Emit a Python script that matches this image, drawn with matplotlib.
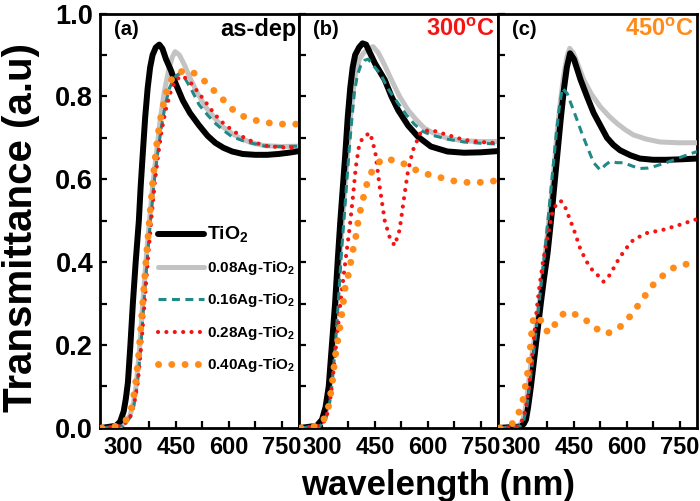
import matplotlib
matplotlib.use("Agg")
import matplotlib.pyplot as plt
from matplotlib.ticker import MultipleLocator, FormatStrFormatter

plt.rcParams['font.family'] = ['Liberation Sans', 'DejaVu Sans']
plt.rcParams['font.weight'] = 'bold'
plt.rcParams['mathtext.fontset'] = 'custom'
plt.rcParams['mathtext.rm'] = 'Liberation Sans:bold'
plt.rcParams['mathtext.it'] = 'Liberation Sans:bold'
plt.rcParams['mathtext.bf'] = 'Liberation Sans:bold'

# ---------------- data ----------------
labels = ['TiO$_2$', '0.08Ag-TiO$_2$', '0.16Ag-TiO$_2$', '0.28Ag-TiO$_2$', '0.40Ag-TiO$_2$']
panel_tags = ['(a)', '(b)', '(c)']
panel_titles = ['as-dep', '300$^o$C', '450$^o$C']

# (a) as-deposited
wl_tio2_a = [240, 280, 292, 302, 308, 314, 321, 328, 336, 345, 350, 356, 363, 370, 377, 384, 393, 403, 412,
             422, 436, 450, 470, 490, 516, 540, 562, 585, 610, 640, 675, 710, 741, 770, 800]
t_tio2_a = [0.0, 0.005, 0.015, 0.04, 0.07, 0.11, 0.2, 0.3, 0.4, 0.5, 0.58, 0.66, 0.75, 0.82, 0.87, 0.9, 0.918,
            0.925, 0.915, 0.89, 0.863, 0.83, 0.79, 0.76, 0.73, 0.705, 0.688, 0.676, 0.667, 0.661, 0.659, 0.659,
            0.661, 0.664, 0.668]
wl_008_a = [240, 290, 305, 320, 330, 337, 347, 356, 366, 375, 385, 396, 405, 417, 430, 440, 448, 460, 475, 490,
            510, 534, 560, 581, 610, 637, 670, 703, 750, 800]
t_008_a = [0.0, 0.003, 0.012, 0.03, 0.06, 0.1, 0.19, 0.3, 0.41, 0.5, 0.59, 0.67, 0.74, 0.81, 0.865, 0.895,
           0.908, 0.9, 0.875, 0.845, 0.81, 0.775, 0.748, 0.728, 0.71, 0.697, 0.687, 0.681, 0.679, 0.68]
wl_016_a = [240, 300, 320, 330, 340, 350, 359, 369, 378, 388, 398, 408, 420, 432, 445, 459, 475, 495, 516, 540,
            562, 585, 609, 650, 703, 750, 800]
t_016_a = [0.0, 0.005, 0.025, 0.05, 0.1, 0.19, 0.3, 0.41, 0.5, 0.59, 0.66, 0.72, 0.78, 0.82, 0.845, 0.855,
           0.845, 0.815, 0.78, 0.755, 0.735, 0.718, 0.703, 0.69, 0.68, 0.679, 0.68]
wl_028_a = [240, 300, 320, 332, 342, 352, 361, 371, 380, 390, 400, 410, 422, 435, 450, 469, 490, 516, 540, 562,
            585, 609, 630, 656, 680, 703, 750, 800]
t_028_a = [0.0, 0.005, 0.025, 0.06, 0.11, 0.2, 0.3, 0.41, 0.5, 0.59, 0.66, 0.72, 0.77, 0.81, 0.84, 0.85, 0.835,
           0.807, 0.78, 0.755, 0.735, 0.719, 0.707, 0.695, 0.687, 0.681, 0.677, 0.675]
wl_040_a = [240, 290, 310, 325, 335, 345, 355, 365, 375, 385, 395, 405, 417, 430, 445, 473, 506, 534, 557, 581,
            609, 633, 661, 694, 722, 755, 800]
t_040_a = [0.0, 0.005, 0.02, 0.05, 0.1, 0.18, 0.29, 0.4, 0.5, 0.6, 0.68, 0.74, 0.79, 0.83, 0.85, 0.863, 0.855,
           0.835, 0.815, 0.795, 0.77, 0.755, 0.745, 0.739, 0.735, 0.733, 0.733]

# (b) 300 C
wl_tio2_b = [240, 285, 300, 310, 319, 328, 337, 345, 352, 359, 366, 373, 380, 387, 394, 405, 415, 425, 436, 450,
             478, 497, 516, 544, 572, 609, 656, 703, 750, 800]
t_tio2_b = [0.0, 0.005, 0.02, 0.05, 0.1, 0.2, 0.3, 0.41, 0.5, 0.58, 0.66, 0.75, 0.82, 0.87, 0.9, 0.918, 0.928,
            0.925, 0.905, 0.88, 0.84, 0.8, 0.767, 0.73, 0.703, 0.679, 0.667, 0.664, 0.665, 0.668]
wl_008_b = [240, 290, 305, 315, 323, 333, 342, 350, 358, 365, 372, 380, 388, 396, 406, 418, 432, 445, 460, 478,
            497, 520, 544, 568, 591, 620, 656, 700, 750, 800]
t_008_b = [0.0, 0.005, 0.02, 0.05, 0.1, 0.2, 0.3, 0.41, 0.5, 0.58, 0.66, 0.74, 0.81, 0.86, 0.89, 0.905, 0.915,
           0.92, 0.905, 0.875, 0.84, 0.8, 0.767, 0.743, 0.723, 0.71, 0.699, 0.693, 0.691, 0.691]
wl_016_b = [240, 295, 310, 320, 328, 338, 346, 354, 362, 369, 376, 384, 392, 400, 410, 421, 431, 445, 465, 490,
            516, 540, 562, 585, 609, 656, 703, 750, 800]
t_016_b = [0.0, 0.005, 0.02, 0.05, 0.1, 0.2, 0.3, 0.41, 0.5, 0.58, 0.66, 0.74, 0.81, 0.85, 0.875, 0.887, 0.89,
           0.875, 0.855, 0.815, 0.783, 0.755, 0.733, 0.716, 0.707, 0.697, 0.69, 0.687, 0.685]
wl_028_b = [240, 295, 310, 320, 328, 340, 352, 366, 378, 388, 396, 405, 415, 427, 436, 444, 452, 464, 478, 492,
            506, 520, 532, 544, 558, 581, 609, 656, 703, 750, 800]
t_028_b = [0.0, 0.005, 0.02, 0.05, 0.1, 0.2, 0.3, 0.4, 0.48, 0.56, 0.63, 0.68, 0.7, 0.707, 0.712, 0.69, 0.66,
           0.58, 0.5, 0.46, 0.44, 0.477, 0.55, 0.62, 0.67, 0.715, 0.719, 0.707, 0.695, 0.69, 0.687]
wl_040_b = [240, 290, 305, 318, 328, 337, 354, 366, 375, 380, 385, 394, 399, 405, 413, 422, 431, 448, 473, 509,
            539, 567, 600, 633, 661, 694, 727, 760, 800]
t_040_b = [0.0, 0.005, 0.02, 0.05, 0.1, 0.17, 0.26, 0.34, 0.37, 0.39, 0.42, 0.45, 0.48, 0.51, 0.54, 0.572, 0.6,
           0.63, 0.65, 0.645, 0.635, 0.622, 0.612, 0.605, 0.598, 0.593, 0.592, 0.593, 0.597]

# (c) 450 C
wl_tio2_c = [240, 300, 308, 314, 320, 328, 335, 342, 349, 356, 365, 375, 385, 394, 403, 412, 422, 430, 439, 450,
             469, 487, 506, 525, 544, 562, 581, 610, 637, 675, 712, 750, 800]
t_tio2_c = [0.0, 0.003, 0.01, 0.02, 0.05, 0.1, 0.15, 0.2, 0.25, 0.3, 0.36, 0.42, 0.5, 0.58, 0.66, 0.74, 0.82,
            0.87, 0.904, 0.89, 0.84, 0.8, 0.76, 0.73, 0.7, 0.683, 0.67, 0.658, 0.65, 0.647, 0.647, 0.648, 0.65]
wl_008_c = [240, 295, 305, 313, 320, 330, 340, 353, 370, 385, 395, 403, 412, 421, 430, 438, 448, 460, 478, 500,
            525, 550, 572, 595, 619, 655, 694, 750, 800]
t_008_c = [0.0, 0.005, 0.02, 0.05, 0.1, 0.17, 0.23, 0.31, 0.43, 0.55, 0.64, 0.72, 0.79, 0.85, 0.895, 0.916,
           0.905, 0.88, 0.84, 0.805, 0.775, 0.752, 0.735, 0.72, 0.707, 0.697, 0.69, 0.688, 0.688]
wl_016_c = [240, 298, 308, 316, 324, 338, 351, 368, 382, 392, 400, 408, 417, 431, 445, 459, 473, 487, 506, 525,
            540, 553, 572, 591, 615, 637, 660, 675, 712, 759, 800]
t_016_c = [0.0, 0.005, 0.02, 0.05, 0.1, 0.2, 0.3, 0.43, 0.55, 0.64, 0.71, 0.77, 0.82, 0.807, 0.775, 0.743, 0.71,
           0.68, 0.64, 0.622, 0.635, 0.643, 0.64, 0.64, 0.632, 0.626, 0.627, 0.63, 0.64, 0.655, 0.667]
wl_028_c = [240, 290, 305, 314, 323, 330, 337, 345, 352, 362, 375, 389, 400, 412, 422, 431, 450, 469, 487, 503,
            516, 534, 553, 572, 595, 619, 656, 703, 750, 800]
t_028_c = [0.0, 0.003, 0.02, 0.05, 0.1, 0.16, 0.22, 0.29, 0.34, 0.4, 0.46, 0.52, 0.54, 0.548, 0.54, 0.52, 0.478,
           0.43, 0.4, 0.38, 0.37, 0.353, 0.37, 0.4, 0.43, 0.454, 0.47, 0.478, 0.49, 0.504]
wl_040_c = [240, 262, 275, 290, 300, 306, 312, 318, 323, 328, 331, 336, 345, 354, 362, 382, 401, 424, 458, 489,
            518, 542, 572, 598, 622, 640, 664, 684, 710, 736, 769, 800]
t_040_c = [0.0, 0.004, 0.01, 0.03, 0.05, 0.07, 0.1, 0.13, 0.16, 0.21, 0.24, 0.268, 0.27, 0.265, 0.24, 0.229,
           0.257, 0.279, 0.273, 0.257, 0.237, 0.227, 0.237, 0.257, 0.283, 0.305, 0.333, 0.355, 0.372, 0.388,
           0.395, 0.4]

panels = [
    [(wl_tio2_a, t_tio2_a), (wl_008_a, t_008_a), (wl_016_a, t_016_a), (wl_028_a, t_028_a), (wl_040_a, t_040_a)],
    [(wl_tio2_b, t_tio2_b), (wl_008_b, t_008_b), (wl_016_b, t_016_b), (wl_028_b, t_028_b), (wl_040_b, t_040_b)],
    [(wl_tio2_c, t_tio2_c), (wl_008_c, t_008_c), (wl_016_c, t_016_c), (wl_028_c, t_028_c), (wl_040_c, t_040_c)],
]

# ---------------- styles ----------------
styles = [
    dict(color='black', lw=4.3, zorder=4, solid_capstyle='round'),
    dict(color='#c3c3c3', lw=3.6, zorder=3, solid_capstyle='round'),
    dict(color='#1f8a88', lw=2.2, ls=(0, (2.6, 1.8)), zorder=5),
    dict(color='#f41414', lw=3.0, ls=(0, (0.01, 2.0)), dash_capstyle='round', zorder=6),
    dict(color='#ff8c1a', lw=5.0, ls=(0, (0.01, 1.9)), dash_capstyle='round', zorder=7),
]
title_colors = ['black', '#f41414', '#ff8c1a']

fig = plt.figure(figsize=(7, 5.01), dpi=100)
axes = fig.subplots(1, 3, sharey=True)
fig.subplots_adjust(left=0.143, right=0.996, bottom=0.146, top=0.973, wspace=0)

for i, ax in enumerate(axes):
    for (wl, t), lab, st in zip(panels[i], labels, styles):
        ax.plot(wl, t, label=lab, **st)
    ax.set_xlim(235, 800)
    ax.set_ylim(0, 1.0)
    ax.set_xticks([300, 450, 600, 750])
    ax.xaxis.set_minor_locator(MultipleLocator(75))
    ax.yaxis.set_major_locator(MultipleLocator(0.2))
    ax.yaxis.set_minor_locator(MultipleLocator(0.1))
    ax.tick_params(which='both', direction='in', width=1.6, length=5, top=False, right=False)
    ax.tick_params(axis='x', labelsize=17, pad=6)
    ax.tick_params(axis='y', labelsize=19.5, pad=5)
    for sp in ax.spines.values():
        sp.set_linewidth(2.0)
    ax.text(0.07, 0.985, panel_tags[i], transform=ax.transAxes, ha='left', va='top', fontsize=14.5)
    ax.text(0.985, 0.99, panel_titles[i], transform=ax.transAxes, ha='right', va='top',
            fontsize=17, color=title_colors[i])

axes[0].yaxis.set_major_formatter(FormatStrFormatter('%.1f'))

leg = axes[0].legend(loc='center left', bbox_to_anchor=(0.29, 0.31), frameon=False,
                     fontsize=11, handlelength=3.0, handletextpad=0.2, labelspacing=0.95,
                     borderpad=0, borderaxespad=0)
leg.get_texts()[0].set_fontsize(14)

fig.text(0.03, 0.545, 'Transmittance (a.u)', rotation=90, ha='center', va='center', fontsize=29)
fig.text(0.626, 0.03, 'wavelength (nm)', ha='center', va='center', fontsize=25)

fig.savefig('out.png', dpi=100)
